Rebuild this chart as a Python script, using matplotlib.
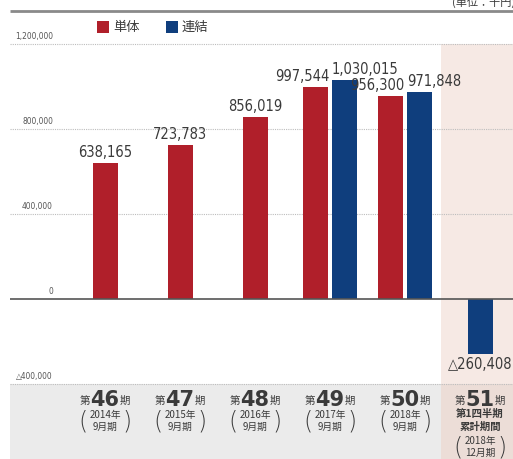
import matplotlib
matplotlib.use('Agg')
import matplotlib.pyplot as plt
from matplotlib.patches import Rectangle

plt.rcParams['font.family'] = ['DejaVu Sans', 'Noto Sans CJK JP']

# data
periods = ['46', '47', '48', '49', '50', '51']
years = ['2014年', '2015年', '2016年', '2017年', '2018年', '2018年']
months = ['9月期', '9月期', '9月期', '9月期', '9月期', '12月期']
tantai = [638165, 723783, 856019, 997544, 956300, None]      # 単体
renketsu = [None, None, None, 1030015, 971848, -260408]      # 連結
yticks = [1200000, 800000, 400000, 0, -400000]
ytick_labels = ['1,200,000', '800,000', '400,000', '0', '△400,000']

RED = '#b01f2a'
BLUE = '#0f3e7d'
TXT = '#3a3a3a'
NUM = dict(family=['DejaVu Sans'], fontstretch='condensed')


# pixel helpers (figure is 513x459, axes fill the figure)
def px(x):
    return (x - 105) / 75


def py(y):
    return (299 - y) / 85 * 400000


fig = plt.figure(figsize=(5.13, 4.59), dpi=100)
ax = fig.add_axes([0, 0, 1, 1])
ax.set_xlim(px(0), px(513))
ax.set_ylim(py(459), py(0))
ax.axis('off')

# background bands
ax.add_patch(Rectangle((px(10), py(459)), px(441) - px(10), -400000 - py(459),
                       color='#ebebeb', lw=0, zorder=0))
ax.add_patch(Rectangle((px(441), -400000), px(513) - px(441), 1600000,
                       color='#f6e9e4', lw=0, zorder=0))
ax.add_patch(Rectangle((px(441), py(459)), px(513) - px(441), -400000 - py(459),
                       color='#ecddd7', lw=0, zorder=0))

# top rule and unit
ax.hlines(py(11), px(10), px(513), color='#8a8a8a', lw=2, zorder=1)
fig.text(452 / 513, 1 - 2 / 459, '(単位：千円)', fontsize=8, color=TXT,
         va='center', ha='left', family=['Noto Sans CJK JP'])

# grid and y labels
for v, lab in zip(yticks, ytick_labels):
    if v == 0:
        ax.hlines(v, px(10), px(513), color='#555555', lw=1.2, zorder=3)
    else:
        ax.hlines(v, px(10), px(513), color='#bdbdbd', lw=0.8,
                  linestyles=(0, (1, 1)), zorder=1)
    ax.annotate(lab, (px(53), v), xytext=(0, 3), textcoords='offset pixels',
                ha='right', va='bottom', fontsize=6, color='#555555', **NUM)

# bars
w = 25 / 75
off = 14.5 / 75
fs = 10.5
for i in range(len(periods)):
    a, b = tantai[i], renketsu[i]
    if a is not None and b is not None:
        ax.bar(i - off, a, w, color=RED, zorder=2)
        ax.bar(i + off, b, w, color=BLUE, zorder=2)
        ax.annotate(f'{a:,}', (i - off + w / 2, a), xytext=(1, 3),
                    textcoords='offset pixels', ha='right', va='bottom',
                    fontsize=fs, color=TXT, **NUM)
        ax.annotate(f'{b:,}', (i + off - w / 2, b), xytext=(0, 3),
                    textcoords='offset pixels', ha='left', va='bottom',
                    fontsize=fs, color=TXT, **NUM)
    elif a is not None:
        ax.bar(i, a, w, color=RED, zorder=2)
        ax.annotate(f'{a:,}', (i, a), xytext=(0, 3), textcoords='offset pixels',
                    ha='center', va='bottom', fontsize=fs, color=TXT, **NUM)
    else:
        ax.bar(i, b, w, color=BLUE, zorder=2)
        lab = f'{b:,}' if b >= 0 else f'△{abs(b):,}'
        ax.annotate(lab, (i, b), xytext=(0, -3), textcoords='offset pixels',
                    ha='center', va='top', fontsize=fs, color=TXT, **NUM)

# legend
for x0, c, lab in [(97, RED, '単体'), (166, BLUE, '連結')]:
    ax.add_patch(Rectangle((px(x0), py(33)), 12 / 75, py(21) - py(33),
                           color=c, lw=0, zorder=3))
    ax.text(px(x0 + 16), py(27), lab, fontsize=9.5, color=TXT, va='center',
            ha='left', family=['Noto Sans CJK JP'])

# period labels
jp = ['Noto Sans CJK JP']
for i, p in enumerate(periods):
    ax.text(i, py(400), p, fontsize=15, fontweight='bold', color=TXT,
            ha='center', va='center', family=['DejaVu Sans'])
    ax.annotate('第', (i, py(401)), xytext=(-15, 0), textcoords='offset pixels',
                ha='right', va='center', fontsize=7.5, color=TXT, family=jp)
    ax.annotate('期', (i, py(401)), xytext=(15, 0), textcoords='offset pixels',
                ha='left', va='center', fontsize=7.5, color=TXT, family=jp)
    y0 = 415
    if p == '51':
        ax.text(i, py(414), '第1四半期', fontsize=7.5, fontweight='bold',
                color=TXT, ha='center', va='center', family=jp)
        ax.text(i, py(427), '累計期間', fontsize=7.5, fontweight='bold',
                color=TXT, ha='center', va='center', family=jp)
        y0 = 441
    ax.text(i, py(y0), years[i], fontsize=7, color=TXT, ha='center',
            va='center', family=jp)
    ax.text(i, py(y0 + 12), months[i], fontsize=7, color=TXT, ha='center',
            va='center', family=jp)
    ax.annotate('(', (i, py(y0 + 6)), xytext=(-22, 0), textcoords='offset pixels',
                ha='center', va='center', fontsize=17, color=TXT,
                family=['DejaVu Sans'], fontweight='light')
    ax.annotate(')', (i, py(y0 + 6)), xytext=(22, 0), textcoords='offset pixels',
                ha='center', va='center', fontsize=17, color=TXT,
                family=['DejaVu Sans'], fontweight='light')

plt.savefig('out.png', dpi=100)
plt.close()
